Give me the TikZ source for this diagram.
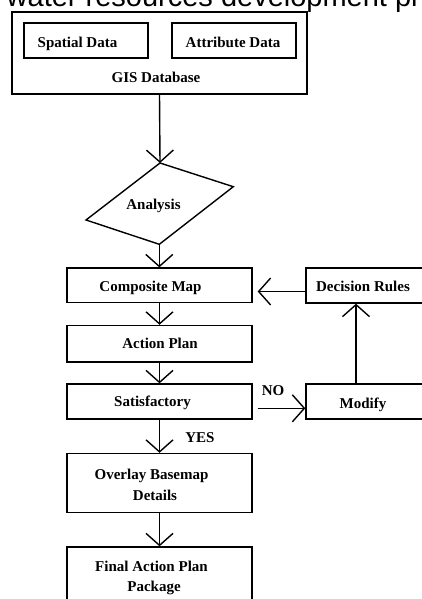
\documentclass[tikz,border=0pt]{standalone}
\usepackage{fontspec}
\setmainfont{Liberation Serif}
\newfontfamily\hdrfont{Liberation Sans}
\usetikzlibrary{arrows.meta}
\begin{document}
\begin{tikzpicture}[x=1pt,y=-1pt,
  box/.style={draw, line width=1.4pt, inner sep=0pt},
  lbl/.style={inner sep=0pt, anchor=base, font=\fontsize{15}{18}\selectfont\bfseries},
  arr/.style={line width=1.4pt, -{Straight Barb[length=12pt,width=27pt]}}]
\path[use as bounding box, clip] (0,0) rectangle (422,599);
\fill[white] (0,0) rectangle (422,599);
\node[inner sep=0pt, anchor=base west, font=\hdrfont\fontsize{29}{30}\selectfont] (hdr) at (6.5,7) {water resources development pl};
% boxes
\node[box, minimum width=295pt, minimum height=82pt] (gis) at (159.5,53) {};
\node[box, minimum width=124pt, minimum height=35pt] (spat) at (86,40.5) {};
\node[box, minimum width=124pt, minimum height=35pt] (attr) at (234,40.5) {};
\node[box, minimum width=185pt, minimum height=34.5pt] (comp) at (159.5,285.3) {};
\node[box, minimum width=185pt, minimum height=36.5pt] (act) at (159.5,343.7) {};
\node[box, minimum width=185pt, minimum height=35pt] (sat) at (159.5,401.5) {};
\node[box, minimum width=185pt, minimum height=59pt] (ovl) at (159.5,483) {};
\node[box, minimum width=185pt, minimum height=65pt] (fin) at (159.5,579.5) {};
\node[box, minimum width=120pt, minimum height=35pt] (dec) at (366,285.5) {};
\node[box, minimum width=120pt, minimum height=35pt] (mod) at (366,401.5) {};
% diamond
\coordinate (anaT) at (160,163);
\coordinate (anaR) at (233.3,186.7);
\coordinate (anaB) at (159.3,244.3);
\coordinate (anaL) at (86,220);
\draw[line width=1.4pt, line join=miter] (anaT) -- (anaR) -- (anaB) -- (anaL) -- cycle;
% labels
\node[lbl] (spatT) at (77.5,47.7) {Spatial Data};
\node[lbl] (attrT) at (233,47.7) {Attribute Data};
\node[lbl] (gisT) at (156,82.7) {GIS Database};
\node[lbl] (anaT2) at (153.5,209) {Analysis};
\node[lbl] (compT) at (150.5,291.7) {Composite Map};
\node[lbl] (actT) at (160,348) {Action Plan};
\node[lbl] (satT) at (152.5,406.7) {Satisfactory};
\node[lbl] (yesT) at (200,442.7) {YES};
\node[lbl] (ovlT1) at (151.5,479) {Overlay Basemap};
\node[lbl] (ovlT2) at (155,500) {Details};
\node[lbl] (finT1) at (151.5,571) {Final Action Plan};
\node[lbl] (finT2) at (154,591.7) {Package};
\node[lbl] (decT) at (363,291) {Decision Rules};
\node[lbl] (modT) at (363,408.3) {Modify};
\node[lbl] (noT) at (273,395.7) {NO};
% connectors
\draw[arr] (gis.south) -- (anaT);
\draw[arr] (anaB) -- (anaB |- comp.north);
\draw[arr] (comp.south) -- (act.north);
\draw[arr] (act.south) -- (sat.north);
\draw[arr] (sat.south) -- (ovl.north);
\draw[arr] (ovl.south) -- (fin.north);
\draw[arr, shorten >=5pt] (dec.west |- 0,291.5) -- (comp.east |- 0,291.5);
\draw[arr, shorten <=5pt] (sat.east |- 0,408.3) -- (mod.west |- 0,408.3);
\draw[arr] (mod.north -| 356,0) -- (dec.south -| 356,0);
\end{tikzpicture}
\end{document}
